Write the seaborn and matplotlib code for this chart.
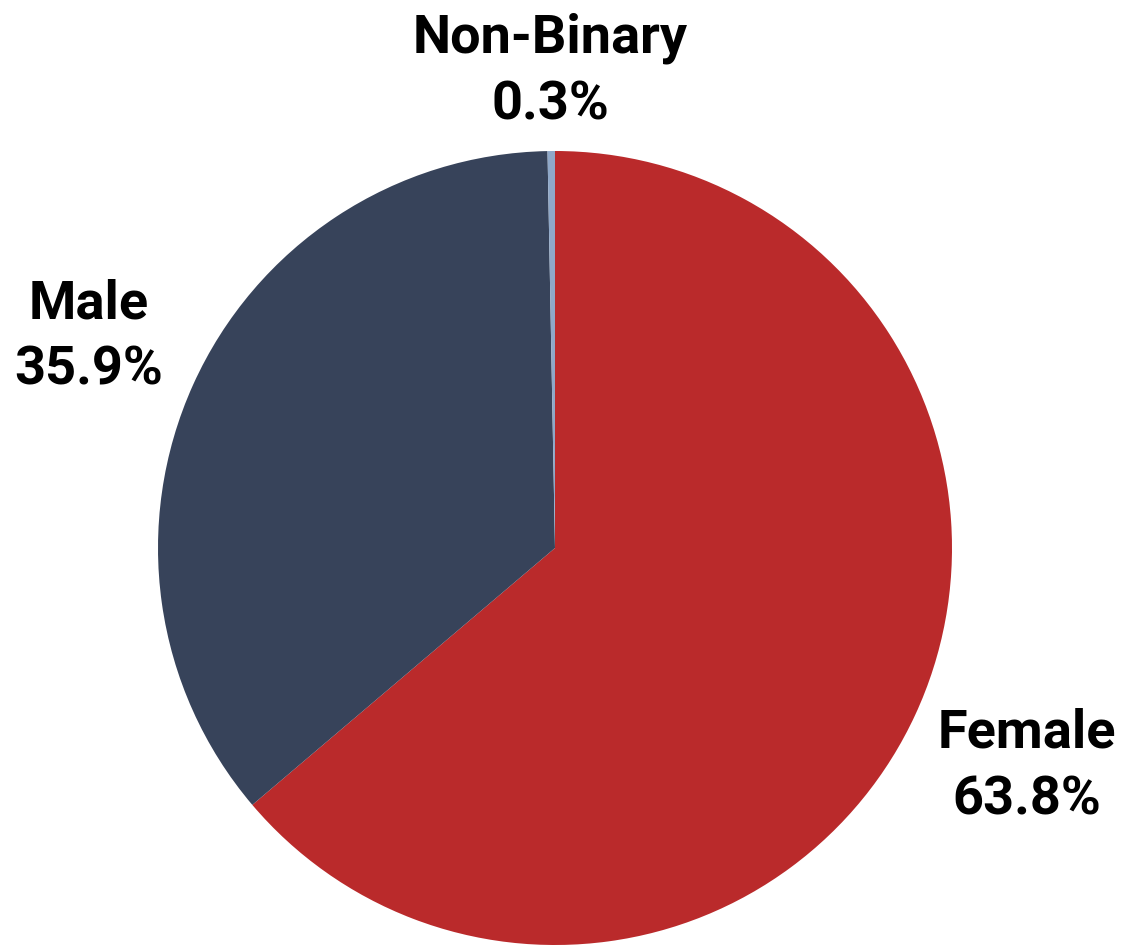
import matplotlib
matplotlib.use("Agg")
import matplotlib.pyplot as plt
import seaborn as sns

# Gender split
categories = ["Female", "Male", "Non-Binary"]
shares = [63.8, 35.9, 0.3]
colors = ["#BA2A2B", "#37435A", "#8FA8C8"]
label_dist = [1.31, 1.29, 1.20]

sns.set_theme(style="white")
plt.rcParams['font.family'] = ['Roboto', 'DejaVu Sans']

fig = plt.figure(figsize=(11.23, 9.48), dpi=100)
ax = fig.add_axes([158 / 1123, 3 / 948, 794 / 1123, 794 / 948])

wedges, texts = ax.pie(
    shares,
    labels=[f"{c}\n{s:.1f}%" for c, s in zip(categories, shares)],
    colors=colors,
    startangle=90,
    counterclock=False,
    radius=1,
    labeldistance=1.3,
    textprops=dict(fontsize=39, fontweight='bold', color='black'),
    wedgeprops=dict(linewidth=0),
)

# per-label distance, centred text
for w, t, d in zip(wedges, texts, label_dist):
    x, y = t.get_position()
    r = (x ** 2 + y ** 2) ** 0.5
    t.set_position((x / r * d, y / r * d))
    t.set_ha('center')
    t.set_va('center')
    t.set_linespacing(1.38)

ax.set_xlim(-1, 1)
ax.set_ylim(-1, 1)
ax.set_aspect('auto')
ax.axis('off')

fig.savefig("out.png", dpi=100)
